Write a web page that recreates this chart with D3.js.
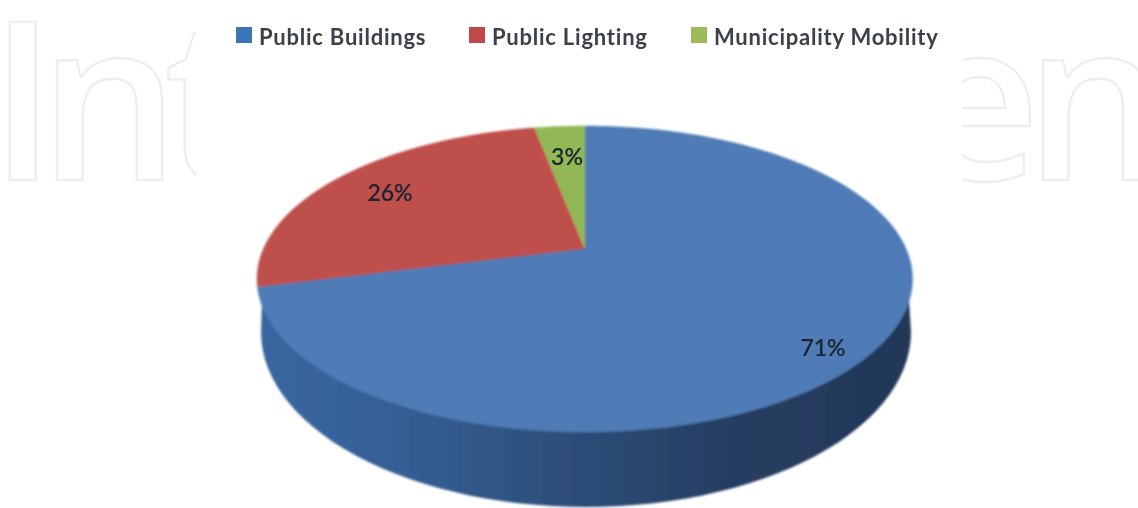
<!DOCTYPE html>
<html><head><meta charset="utf-8">
<style>html,body{margin:0;padding:0;background:#fff}svg{display:block}</style>
<script src="https://cdn.jsdelivr.net/npm/d3@7"></script></head>
<body><script>
const categories = ["Public Buildings", "Public Lighting", "Municipality Mobility"];
const shares = [71, 26, 3];
const colors = ["#4f7cb6", "#bf4f4c", "#92b854"];
const legendColors = ["#3b75b8", "#bd4a4a", "#9abb59"];
const tiltPerspective = -0.2;

const W = 1138, H = 508;
const svg = d3.select("body").append("svg").attr("width", W).attr("height", H);
const defs = svg.append("defs");
defs.append("filter").attr("id","soft").attr("x","-5%").attr("y","-5%").attr("width","110%").attr("height","110%")
  .append("feGaussianBlur").attr("stdDeviation",0.8);
defs.append("filter").attr("id","softT").attr("x","-5%").attr("y","-20%").attr("width","110%").attr("height","140%")
  .append("feGaussianBlur").attr("stdDeviation",0.55);
const wallGrad = defs.append("linearGradient").attr("id","wall").attr("x1","0").attr("x2","1").attr("y1","0").attr("y2","0");
[[0,"#38679f"],[0.14,"#36629a"],[0.3,"#325a8c"],[0.47,"#2d4e79"],[0.7,"#273f64"],[1,"#233757"]]
  .forEach(s=>wallGrad.append("stop").attr("offset",s[0]).attr("stop-color",s[1]));

// Watermark: outlined letters, masked by the picture's white panel
const wm = svg.append("g").attr("font-family","'Open Sans'").attr("font-weight",600).attr("font-size",221)
  .attr("fill","#fff").attr("stroke","#eeeeee").attr("stroke-width",2.4).attr("filter","url(#softT)");
[["I",-11],["n",39],["t",164],["e",913],["n",1025]].forEach(d=>
  wm.append("text").attr("x",d[1]).attr("y",180).text(d[0]));
svg.append("rect").attr("x",196).attr("y",0).attr("width",766).attr("height",H).attr("fill","#fff");

// Perspective projection of a unit disc onto the pie's top face
const x = d3.scaleLinear().domain([-1,1]).range([257,912.5]);
const y = d3.scaleLinear().domain([-1,1]).range([126,432]);
const k = tiltPerspective, s = Math.sqrt(1-k*k);
const project = (r,a) => {
  const ux = r*Math.sin(a), uy = -r*Math.cos(a), d = 1+k*uy;
  return [x(ux*s/d), y((uy+k)/d)];
};

// Side wall
const xb = d3.scaleLinear().domain([-1,1]).range([261,911]);
const yb = d3.scaleLinear().domain([-1,1]).range([157,507]);
const rim = d3.range(0,181,3).map(t=>{const a=t*Math.PI/180;return [xb(-Math.cos(a)),yb(Math.sin(a))];});
const wallPts = [project(1,-Math.PI/2)].concat(rim,[project(1,Math.PI/2)]);
const g = svg.append("g").attr("filter","url(#soft)");
g.append("path").attr("d",d3.line()(wallPts)+"Z").attr("fill","url(#wall)");

// Top face
const pieGen = d3.pie().sort(null)(shares);
pieGen.forEach((d,i)=>{
  const n = Math.max(4,Math.ceil((d.endAngle-d.startAngle)*60));
  const pts = [project(0,0)].concat(d3.range(n+1).map(j=>project(1,d.startAngle+(d.endAngle-d.startAngle)*j/n)));
  g.append("path").attr("d",d3.line()(pts)+"Z").attr("fill",colors[i]).attr("stroke",colors[i]).attr("stroke-width",0.5);
});

// Data labels
const labelAnchors = [[823,347],[390,192],[567,156]];
const t = svg.append("g").attr("filter","url(#softT)");
shares.forEach((v,i)=>t.append("text").attr("x",labelAnchors[i][0]).attr("y",labelAnchors[i][1])
  .attr("text-anchor","middle").attr("dominant-baseline","central")
  .attr("font-family","Lato").attr("font-weight",500).attr("font-size",23).attr("fill","#1c2430")
  .attr("stroke","#1c2430").attr("stroke-width",0.2).text(v+"%"));

// Legend
const legendX = [236,469,691];
categories.forEach((c,i)=>{
  t.append("rect").attr("x",legendX[i]).attr("y",27).attr("width",16).attr("height",16).attr("fill",legendColors[i]);
  t.append("text").attr("x",legendX[i]+23).attr("y",36).attr("dominant-baseline","central")
   .attr("font-family","Lato").attr("font-weight",700).attr("letter-spacing",0.77).attr("font-size",22).attr("fill","#3a3f48").text(c);
});
</script></body></html>
